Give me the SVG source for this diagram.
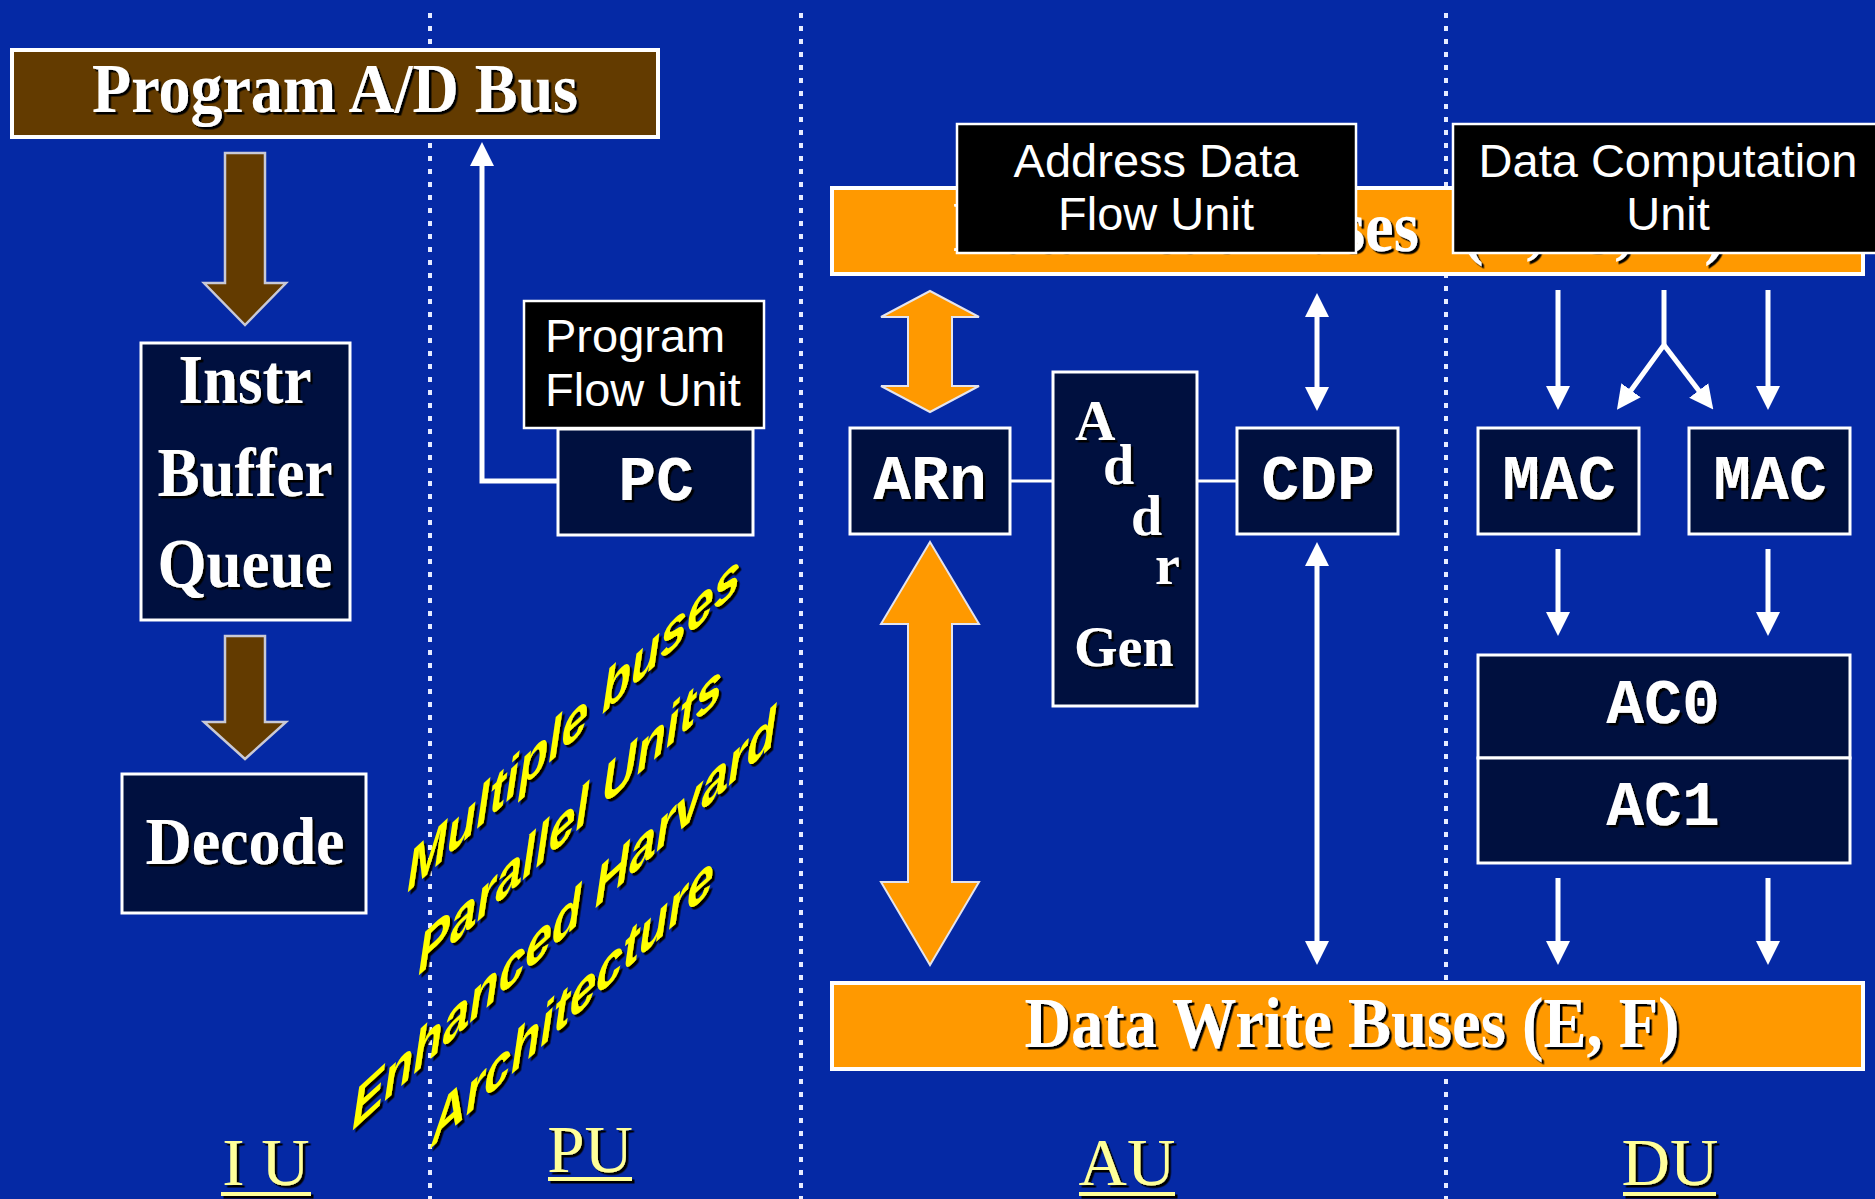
<svg xmlns="http://www.w3.org/2000/svg" width="1875" height="1199" viewBox="0 0 1875 1199">
<defs>
<style>
.box{fill:#00103f;stroke:#fff;stroke-width:3}
.lbl{fill:#000;stroke:#fff;stroke-width:2.5}
.bus{fill:#ff9900;stroke:#fff;stroke-width:4}
.pbus{fill:#633b00;stroke:#fff;stroke-width:4}
.barrow{fill:#633b00;stroke:#c9c9d6;stroke-width:2.5}
.oarrow{fill:#ff9900;stroke:#e4e4ee;stroke-width:2}
.serif{font-family:"Liberation Serif","Times New Roman",serif;font-weight:bold;fill:#fff}
.mono{font-family:"Liberation Mono","Courier New",monospace;font-weight:bold;fill:#fff;font-size:63px;text-anchor:middle}
.sans{font-family:"Liberation Sans",Arial,sans-serif;fill:#fff;font-size:47px}
.yel{font-family:"Liberation Sans",Arial,sans-serif;font-weight:bold;font-style:italic;fill:#ffff00;font-size:48px}
.unit{font-family:"Liberation Serif","Times New Roman",serif;fill:#ffff99;font-size:67px;text-anchor:middle}
.uline{fill:#ffff99}
.wl{stroke:#fff;stroke-width:5;fill:none}
.thin{stroke:#fff;stroke-width:3;fill:none}
.sep{stroke:#e6ebff;stroke-width:4;stroke-dasharray:5 8}
.sh{filter:url(#sh)}
.mid{text-anchor:middle}
</style>
<filter id="sh" x="-20%" y="-20%" width="140%" height="140%">
<feDropShadow dx="2.5" dy="2.5" stdDeviation="0" flood-color="#000" flood-opacity="1"/>
</filter>
<marker id="ah" viewBox="0 0 24 24" refX="12" refY="12" markerWidth="24" markerHeight="24" markerUnits="userSpaceOnUse" orient="auto-start-reverse">
<path d="M0,0 L24,12 L0,24 z" fill="#fff"/>
</marker>
</defs>

<rect width="1875" height="1199" fill="#0529a5"/>

<g id="separators">
<line class="sep" x1="430" y1="13" x2="430" y2="1199"/>
<line class="sep" x1="801" y1="13" x2="801" y2="1199"/>
<line class="sep" x1="1446" y1="13" x2="1446" y2="1199"/>
</g>

<g id="connectors">
<polygon class="barrow" points="225,153 265,153 265,283 286,283 245,325 204,283 225,283"/>
<polygon class="barrow" points="225,636 265,636 265,722 286,722 245,759 204,722 225,722"/>
<path class="wl" d="M560,481 L482,481 L482,154" marker-end="url(#ah)"/>
<polygon class="oarrow" points="930,291 979,317 952,317 952,386 979,386 930,412 881,386 908,386 908,317 881,317"/>
<polygon class="oarrow" points="930,542 979,624 952,624 952,882 979,882 930,965 881,882 908,882 908,624 881,624"/>
<line class="thin" x1="1010" y1="481" x2="1053" y2="481"/>
<line class="thin" x1="1197" y1="481" x2="1237" y2="481"/>
<line class="wl" x1="1317" y1="305" x2="1317" y2="399" marker-start="url(#ah)" marker-end="url(#ah)"/>
<line class="wl" x1="1317" y1="554" x2="1317" y2="953" marker-start="url(#ah)" marker-end="url(#ah)"/>
<line class="wl" x1="1558" y1="290" x2="1558" y2="398" marker-end="url(#ah)"/>
<line class="wl" x1="1768" y1="290" x2="1768" y2="398" marker-end="url(#ah)"/>
<path class="wl" d="M1664,290 L1664,345 L1624,400" marker-end="url(#ah)"/>
<path class="wl" d="M1664,345 L1706,400" marker-end="url(#ah)"/>
<line class="wl" x1="1558" y1="549" x2="1558" y2="624" marker-end="url(#ah)"/>
<line class="wl" x1="1768" y1="549" x2="1768" y2="624" marker-end="url(#ah)"/>
<line class="wl" x1="1558" y1="878" x2="1558" y2="953" marker-end="url(#ah)"/>
<line class="wl" x1="1768" y1="878" x2="1768" y2="953" marker-end="url(#ah)"/>
</g>

<g id="program-bus">
<rect class="pbus" x="12" y="50" width="646" height="87"/>
<g class="sh"><text class="serif mid" font-size="64" transform="translate(335,112) scale(1,1.1)">Program A/D Bus</text></g>
</g>

<g id="instr-buffer">
<rect class="box" x="141" y="343" width="209" height="277"/>
<g class="sh">
<text class="serif mid" font-size="63" transform="translate(245,403) scale(1,1.1)">Instr</text>
<text class="serif mid" font-size="63" transform="translate(245,496) scale(1,1.1)">Buffer</text>
<text class="serif mid" font-size="63" transform="translate(245,587) scale(1,1.1)">Queue</text>
</g>
</g>

<g id="decode">
<rect class="box" x="122" y="774" width="244" height="139"/>
<g class="sh"><text class="serif mid" font-size="64" transform="translate(245,864) scale(1,1.06)">Decode</text></g>
</g>

<g id="pc">
<rect class="box" x="558" y="429" width="195" height="106"/>
<text class="mono sh" x="656" y="500">PC</text>
</g>

<g id="program-flow-unit">
<rect class="lbl" x="524" y="301" width="240" height="127"/>
<text class="sans" x="545" y="352">Program</text>
<text class="sans" x="545" y="406">Flow Unit</text>
</g>

<g id="read-buses">
<rect class="bus" x="832" y="188" width="1031" height="86"/>
<g class="sh"><text class="serif" font-size="64.5" transform="translate(0,251) scale(1,1.1)"><tspan x="953" y="0">Data Read Buses</tspan><tspan x="1462" y="0" word-spacing="10">(B, C, D)</tspan></text></g>
</g>

<g id="address-data-flow-unit">
<rect class="lbl" x="957" y="124" width="399" height="129"/>
<text class="sans mid" x="1156" y="177">Address Data</text>
<text class="sans mid" x="1156" y="230">Flow Unit</text>
</g>

<g id="data-computation-unit">
<rect class="lbl" x="1453" y="124" width="432" height="129"/>
<text class="sans mid" x="1668" y="177" font-size="45">Data Computation</text>
<text class="sans mid" x="1668" y="230" font-size="45">Unit</text>
</g>

<g id="arn">
<rect class="box" x="850" y="428" width="160" height="106"/>
<text class="mono sh" x="930" y="499">ARn</text>
</g>

<g id="addr-gen">
<rect class="box" x="1053" y="372" width="144" height="334"/>
<text class="serif sh" font-size="56"><tspan x="1075" y="440">A</tspan><tspan x="1103" y="484">d</tspan><tspan x="1131" y="535">d</tspan><tspan x="1155" y="584">r</tspan><tspan x="1074" y="666">Gen</tspan></text>
</g>

<g id="cdp">
<rect class="box" x="1237" y="428" width="161" height="106"/>
<text class="mono sh" x="1318" y="499">CDP</text>
</g>

<g id="mac1">
<rect class="box" x="1478" y="428" width="161" height="106"/>
<text class="mono sh" x="1559" y="499">MAC</text>
</g>

<g id="mac2">
<rect class="box" x="1689" y="428" width="161" height="106"/>
<text class="mono sh" x="1770" y="499">MAC</text>
</g>

<g id="ac0">
<rect class="box" x="1478" y="655" width="372" height="103"/>
<text class="mono sh" x="1663" y="723">AC0</text>
</g>

<g id="ac1">
<rect class="box" x="1478" y="758" width="372" height="105"/>
<text class="mono sh" x="1663" y="825">AC1</text>
</g>

<g id="write-buses">
<rect class="bus" x="832" y="983" width="1031" height="86"/>
<g class="sh"><text class="serif mid" font-size="64.5" transform="translate(1352,1047) scale(1,1.1)">Data Write Buses (E, F)</text></g>
</g>

<g id="features" class="sh">
<text class="yel" transform="matrix(1,-0.916,0,1.14,407,893)">Multiple buses</text>
<text class="yel" transform="matrix(1,-0.916,0,1.14,418,976)">Parallel Units</text>
<text class="yel" transform="matrix(1,-0.916,0,1.14,352,1131)">Enhanced Harvard</text>
<text class="yel" transform="matrix(1,-0.916,0,1.14,431,1148)">Architecture</text>
</g>

<g id="unit-labels" class="sh">
<text class="unit" x="266" y="1185">I U</text>
<rect class="uline" x="221" y="1192" width="90" height="4"/>
<text class="unit" x="590" y="1172">PU</text>
<rect class="uline" x="548" y="1177" width="84" height="4"/>
<text class="unit" x="1127" y="1185">AU</text>
<rect class="uline" x="1079" y="1192" width="96" height="4"/>
<text class="unit" x="1670" y="1185">DU</text>
<rect class="uline" x="1623" y="1192" width="93" height="4"/>
</g>
</svg>
